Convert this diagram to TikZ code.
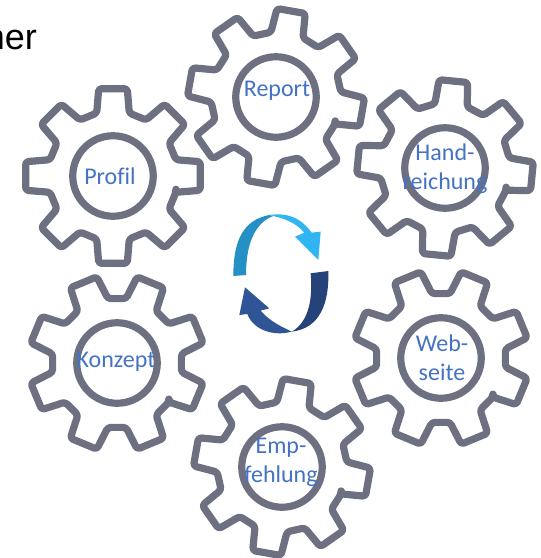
\documentclass[tikz,border=0pt]{standalone}
\usepackage{fontspec}
\setmainfont{Carlito}
\newfontfamily\arialfont{Liberation Sans}
\definecolor{gearc}{HTML}{6D7080}
\definecolor{labelc}{HTML}{4472C4}
\definecolor{arrowa}{HTML}{2490C4}
\definecolor{arrowb}{HTML}{30B4F2}
\definecolor{arrowc}{HTML}{2F5597}
\definecolor{arrowd}{HTML}{254379}
\tikzset{
  gearline/.style={draw=gearc,line width=7.2pt,rounded corners=3pt,line join=round},
  ringnode/.style={circle,draw=gearc,line width=7.2pt,minimum size=80.5pt,inner sep=0pt},
  gearlabel/.style={text=labelc,align=center,inner sep=0pt,font=\fontsize{24}{28.5}\selectfont},
}
\newcommand{\gearat}[4]{% name, x, y, rotation
  \draw[gearline] ({#2+65*cos(#4+14.5)},{#3+65*sin(#4+14.5)})
    \foreach \a in {45,90,...,360}{
      -- ({#2+65*cos(\a+#4-14.5)},{#3+65*sin(\a+#4-14.5)})
      -- ({#2+88.5*cos(\a+#4-9.3)},{#3+88.5*sin(\a+#4-9.3)})
      -- ({#2+88.5*cos(\a+#4+9.3)},{#3+88.5*sin(\a+#4+9.3)})
      -- ({#2+65*cos(\a+#4+14.5)},{#3+65*sin(\a+#4+14.5)})
    } -- cycle;
  \node[ringnode] (#1) at (#2,#3) {};
}
\begin{document}
\begin{tikzpicture}[x=1pt,y=-1pt]
\clip (0,0) rectangle (541,558);
\fill[white] (0,0) rectangle (541,558);
\node[anchor=base east,inner sep=0pt,font=\arialfont\fontsize{36}{36}\selectfont] (title) at (37,49) {ner};
\gearat{profil}{113}{176}{0}
\gearat{report}{276}{97}{10}
\gearat{hand}{445}{168}{5.5}
\gearat{web}{441}{358}{22.5}
\gearat{emp}{282}{467}{10}
\gearat{konzept}{117}{363}{22.5}
\node[gearlabel] (lprofil) at (110,176) {Prof\kern0pt il};
\node[gearlabel] (lreport) at (277,91) {Report};
\node[gearlabel] (lhand) at (445,168.5) {Hand-\\reichung};
\node[gearlabel] (lweb) at (442,357.5) {Web-\\seite};
\node[gearlabel] (lemp) at (281,462.5) {Emp-\\fehlung};
\node[gearlabel] (lkonzept) at (116,362) {Konzept};
\begin{scope}[shift={(210,190)},x=0.3333pt,y=-0.3333pt]
\fill[arrowa] (70,258) .. controls (70,150) and (100,90) .. (178,75) -- (190,78) .. controls (130,100) and (108,170) .. (108,255) -- cycle;
\fill[arrowb] (178,75) .. controls (230,68) and (270,80) .. (305,128) -- (332,125) -- (325,210) -- (255,140) -- (283,128) .. controls (255,95) and (220,85) .. (178,75) -- cycle;
\fill[arrowd] (302,250) -- (355,243) .. controls (358,340) and (330,415) .. (245,425) .. controls (290,400) and (310,340) .. (302,250) -- cycle;
\fill[arrowc] (105,292) -- (178,355) -- (152,362) .. controls (180,395) and (215,410) .. (245,425) .. controls (190,440) and (130,420) .. (112,372) -- (88,375) -- cycle;
\end{scope}
\end{tikzpicture}
\end{document}
